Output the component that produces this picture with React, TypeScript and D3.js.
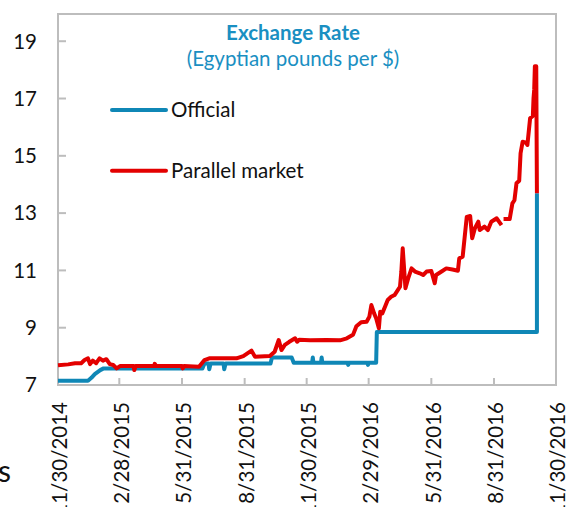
import React from "react";
import * as d3 from "d3";

const officialDates = [
  "2014-11-30", "2015-01-13", "2015-01-18", "2015-01-23", "2015-01-31", "2015-02-05",
  "2015-06-30", "2015-07-03", "2015-07-09", "2015-07-10", "2015-07-12", "2015-07-31",
  "2015-08-01", "2015-08-03", "2015-10-08", "2015-10-10", "2015-11-08", "2015-11-11",
  "2015-12-08", "2015-12-09", "2015-12-10", "2015-12-21", "2015-12-22", "2015-12-23",
  "2016-01-29", "2016-01-30", "2016-01-31", "2016-02-27", "2016-02-28", "2016-02-29",
  "2016-03-11", "2016-03-12", "2016-11-02", "2016-11-02",
];
const officialValues = [
  7.15, 7.15, 7.25, 7.38, 7.52, 7.58,
  7.58, 7.75, 7.75, 7.55, 7.75, 7.75,
  7.55, 7.75, 7.75, 7.96, 7.96, 7.78,
  7.78, 7.96, 7.78, 7.78, 7.96, 7.78,
  7.78, 7.70, 7.78, 7.78, 7.70, 7.78,
  7.78, 8.85, 8.85, 13.69,
];

const parallelDates = [
  "2014-11-30", "2014-12-15", "2014-12-25", "2015-01-03", "2015-01-08", "2015-01-13",
  "2015-01-16", "2015-01-20", "2015-01-25", "2015-01-30", "2015-02-04", "2015-02-09",
  "2015-02-14", "2015-02-19", "2015-02-24", "2015-03-01", "2015-03-21", "2015-03-22",
  "2015-03-24", "2015-04-20", "2015-04-21", "2015-04-23", "2015-05-31", "2015-06-01",
  "2015-06-03", "2015-06-25", "2015-07-03", "2015-07-10", "2015-08-19", "2015-08-29",
  "2015-09-10", "2015-09-15", "2015-10-07", "2015-10-14", "2015-10-20", "2015-10-24",
  "2015-10-29", "2015-11-04", "2015-11-13", "2015-11-16", "2015-11-19", "2015-12-05",
  "2015-12-29", "2016-01-18", "2016-01-28", "2016-02-06", "2016-02-11", "2016-02-18",
  "2016-02-26", "2016-03-01", "2016-03-04", "2016-03-08", "2016-03-11", "2016-03-15",
  "2016-03-17", "2016-03-20", "2016-03-24", "2016-03-28", "2016-04-02", "2016-04-07",
  "2016-04-12", "2016-04-15", "2016-04-17", "2016-04-19", "2016-04-20", "2016-04-23",
  "2016-04-27", "2016-05-02", "2016-05-07", "2016-05-14", "2016-05-19", "2016-05-24",
  "2016-05-31", "2016-06-05", "2016-06-07", "2016-06-15", "2016-06-22", "2016-07-01",
  "2016-07-09", "2016-07-11", "2016-07-16", "2016-07-22", "2016-07-27", "2016-07-30",
  "2016-08-03", "2016-08-08", "2016-08-10", "2016-08-17", "2016-08-22", "2016-08-27",
  "2016-09-04", "2016-09-11", "2016-09-12", "2016-09-14", "2016-09-23", "2016-09-27",
  "2016-09-30", "2016-10-03", "2016-10-07", "2016-10-09", "2016-10-12", "2016-10-17",
  "2016-10-19", "2016-10-23", "2016-10-27", "2016-10-28", "2016-10-29", "2016-10-30",
  "2016-11-01", "2016-11-02",
];
const parallelValues: (number | null)[] = [
  7.69, 7.72, 7.76, 7.76, 7.87, 7.93,
  7.73, 7.85, 7.76, 7.93, 7.85, 7.90,
  7.73, 7.70, 7.58, 7.66, 7.66, 7.52,
  7.66, 7.66, 7.74, 7.66, 7.66, 7.58,
  7.66, 7.64, 7.87, 7.93, 7.93, 8.01,
  8.20, 7.99, 8.01, 8.16, 8.57, 8.22,
  8.40, 8.50, 8.63, 8.51, 8.58, 8.56,
  8.57, 8.56, 8.63, 8.75, 9.05, 9.19,
  9.21, 9.38, 9.79, 9.50, 9.33, 8.98,
  9.56, 9.50, 9.73, 9.97, 10.08, 10.14,
  10.32, 10.43, 10.96, 11.77, 11.42, 10.38,
  10.72, 11.07, 10.96, 10.90, 10.84, 10.96,
  10.98, 10.55, 10.84, 10.96, 11.07, 11.03,
  10.99, 11.42, 11.48, 12.87, 12.90, 12.12,
  12.47, 12.70, 12.41, 12.53, 12.41, 12.70,
  12.82, 12.58, null, 12.79, 12.79, 13.34,
  13.45, 14.04, 14.13, 15.09, 15.49, 15.46,
  15.38, 16.31, 16.39, 17.00, 17.30, 18.13,
  18.13, 13.69,
];

const yTicks = [7, 9, 11, 13, 15, 17, 19];
const xTickDates = [
  "2014-11-30", "2015-02-28", "2015-05-31", "2015-08-31", "2015-11-30",
  "2016-02-29", "2016-05-31", "2016-08-31", "2016-11-30",
];
const xTickLabels = [
  "11/30/2014", "2/28/2015", "5/31/2015", "8/31/2015", "11/30/2015",
  "2/29/2016", "5/31/2016", "8/31/2016", "11/30/2016",
];
const seriesNames = ["Official", "Parallel market"];
const titleText = "Exchange Rate";
const subtitleText = "(Egyptian pounds per $)";

const FONT = "Lato, 'Open Sans', sans-serif";
const BLUE = "#0f87b6";
const RED = "#e30000";
const TITLE = "#1a8fc2";
const GRID = "#bdbdbd";

type Pt = { date: Date; value: number | null };

export default function App() {
  const W = 569;
  const H = 507;
  const left = 58, right = 556, top = 14, bottom = 385;
  const parse = d3.timeParse("%Y-%m-%d");
  const x = d3
    .scaleTime()
    .domain([parse("2014-11-30") as Date, parse("2016-11-30") as Date])
    .range([left, right]);
  const y = d3.scaleLinear().domain([7, 19.95]).range([bottom, top]);

  const official: Pt[] = officialDates.map((d, i) => ({ date: parse(d) as Date, value: officialValues[i] }));
  const parallel: Pt[] = parallelDates.map((d, i) => ({ date: parse(d) as Date, value: parallelValues[i] }));

  const line = d3
    .line<Pt>()
    .defined((d) => d.value != null)
    .x((d) => x(d.date))
    .y((d) => y(d.value as number));

  const legendY = [y(16.6), y(14.48)];
  const legendColors = [BLUE, RED];

  return (
    <svg
      width={W}
      height={H}
      style={{ position: "absolute", left: 0, top: 0, background: "#fff" }}
      fontFamily={FONT}
    >
      <rect x={left} y={top} width={right - left} height={bottom - top} fill="#fff" stroke={GRID} strokeWidth={2} />
      {yTicks.map((t) => (
        <g key={"y" + t}>
          <line x1={left} x2={left + 8} y1={y(t)} y2={y(t)} stroke={GRID} strokeWidth={2} />
          <text x={37} y={y(t)} dy="0.36em" textAnchor="end" fontSize={20.5} fill="#111">
            {t}
          </text>
        </g>
      ))}
      {xTickDates.map((d, i) => {
        const xx = x(parse(d) as Date);
        return (
          <g key={"x" + d}>
            <line x1={xx} x2={xx} y1={bottom} y2={bottom - 7} stroke={GRID} strokeWidth={2} />
            <text
              transform={`translate(${xx + 2},${402}) rotate(-90)`}
              dy="0.36em"
              textAnchor="end"
              fontSize={20.5}
              fill="#111"
            >
              {xTickLabels[i]}
            </text>
          </g>
        );
      })}
      <path d={line(official) || ""} fill="none" stroke={BLUE} strokeWidth={4} strokeLinejoin="round" />
      <path d={line(parallel) || ""} fill="none" stroke={RED} strokeWidth={4} strokeLinejoin="round" />
      <text x={293} y={40} textAnchor="middle" fontSize={20.5} fontWeight="bold" fill={TITLE}>
        {titleText}
      </text>
      <text x={293} y={66} textAnchor="middle" fontSize={20.5} fill={TITLE}>
        {subtitleText}
      </text>
      {seriesNames.map((n, i) => (
        <g key={n}>
          <line x1={112} x2={166} y1={legendY[i]} y2={legendY[i]} stroke={legendColors[i]} strokeWidth={4} strokeLinecap="round" />
          <text x={171} y={legendY[i]} dy="0.36em" fontSize={20.5} fill="#111">
            {n}
          </text>
        </g>
      ))}
      <text x={-2} y={482} fontSize={30} fill="#111">
        s
      </text>
    </svg>
  );
}
